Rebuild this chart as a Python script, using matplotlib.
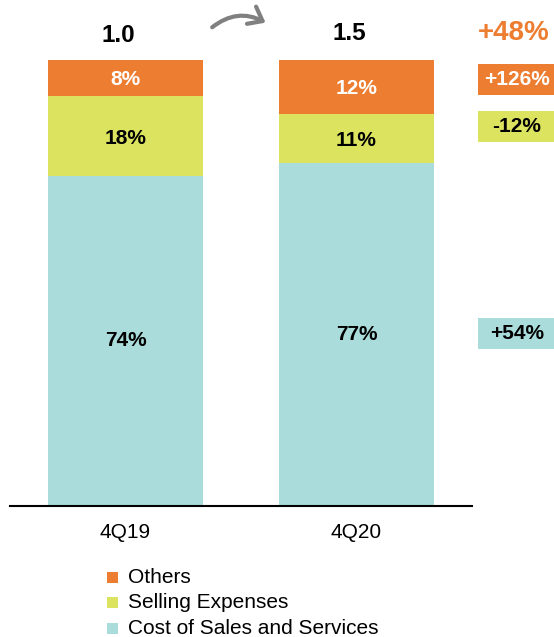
import matplotlib
matplotlib.use("Agg")
import matplotlib.pyplot as plt
from matplotlib.patches import FancyArrowPatch, Rectangle

plt.rcParams['font.family'] = ['Liberation Sans', 'DejaVu Sans']

categories = ["4Q19", "4Q20"]
totals = ["1.0", "1.5"]
cost = [74, 77]
selling = [18, 11]
others = [8, 12]
series_names = ["Others", "Selling Expenses", "Cost of Sales and Services"]
changes = ["+48%", "+126%", "-12%", "+54%"]

c_orange = "#ED7D31"
c_yellow = "#DCE35F"
c_teal = "#A9DCDA"

W, H = 554, 637
fig = plt.figure(figsize=(W/100, H/100), dpi=100)
ax = fig.add_axes([10/W, 1-506/H, 462/W, 446/H])

x = list(range(len(categories)))
bw = 0.667
ax.bar(x, cost, bw, color=c_teal)
ax.bar(x, selling, bw, bottom=cost, color=c_yellow)
bot2 = [a+b for a, b in zip(cost, selling)]
ax.bar(x, others, bw, bottom=bot2, color=c_orange)

for i in x:
    ax.text(i, cost[i]/2, f"{cost[i]}%", ha='center', va='center', fontsize=15, fontweight='bold', color='black')
    ax.text(i, cost[i]+selling[i]/2 - 0.5, f"{selling[i]}%", ha='center', va='center', fontsize=15, fontweight='bold', color='black')
    ax.text(i, bot2[i]+others[i]/2 - 0.4, f"{others[i]}%", ha='center', va='center', fontsize=15, fontweight='bold', color='white')

ax.set_xlim(-0.5, 1.5)
ax.set_ylim(0, 100)
for s in ['top', 'right', 'left']:
    ax.spines[s].set_visible(False)
ax.spines['bottom'].set_linewidth(1.5)
ax.spines['bottom'].set_color('black')
ax.set_yticks([])
ax.set_xticks(x)
ax.set_xticklabels(categories, fontsize=15)
ax.tick_params(axis='x', length=0, pad=12)

def fx(px):
    return px / W
def fy(py):
    return 1 - py / H

# totals above bars
fig.text(fx(118.5), fy(36), totals[0], ha='center', va='center', fontsize=17.5, fontweight='bold')
fig.text(fx(349.5), fy(33.5), totals[1], ha='center', va='center', fontsize=17.5, fontweight='bold')

# arrow
arr = FancyArrowPatch((fx(210), fy(29)), (fx(268), fy(24)), transform=fig.transFigure,
                      connectionstyle="arc3,rad=-0.35", arrowstyle="->,head_length=4.5,head_width=3.5",
                      color="#808080", lw=3, mutation_scale=2, capstyle='round', joinstyle='round')
fig.add_artist(arr)

# change boxes
fig.text(fx(514), fy(33.5), changes[0], ha='center', va='center', fontsize=20, fontweight='bold', color=c_orange)
boxes = [(64, 95, c_orange, 'white', changes[1]),
         (111, 142, c_yellow, 'black', changes[2]),
         (318, 349, c_teal, 'black', changes[3])]
for top, bot, fc, tc, lab in boxes:
    r = Rectangle((fx(478), fy(bot)), fx(554)-fx(478), fy(top)-fy(bot), transform=fig.transFigure,
                  facecolor=fc, edgecolor='none')
    fig.add_artist(r)
    fig.text(fx(517), fy((top+bot)/2), lab, ha='center', va='center', fontsize=15, fontweight='bold', color=tc)

# legend
leg_cols = [c_orange, c_yellow, c_teal]
leg_y = [577.5, 602.5, 628.5]
for name, col, yy in zip(series_names, leg_cols, leg_y):
    r = Rectangle((fx(107), fy(yy+5.5)), fx(118)-fx(107), fy(yy-5.5)-fy(yy+5.5), transform=fig.transFigure,
                  facecolor=col, edgecolor='none')
    fig.add_artist(r)
    fig.text(fx(128), fy(yy), name, ha='left', va='center', fontsize=15)

fig.savefig("out.png", dpi=100)
